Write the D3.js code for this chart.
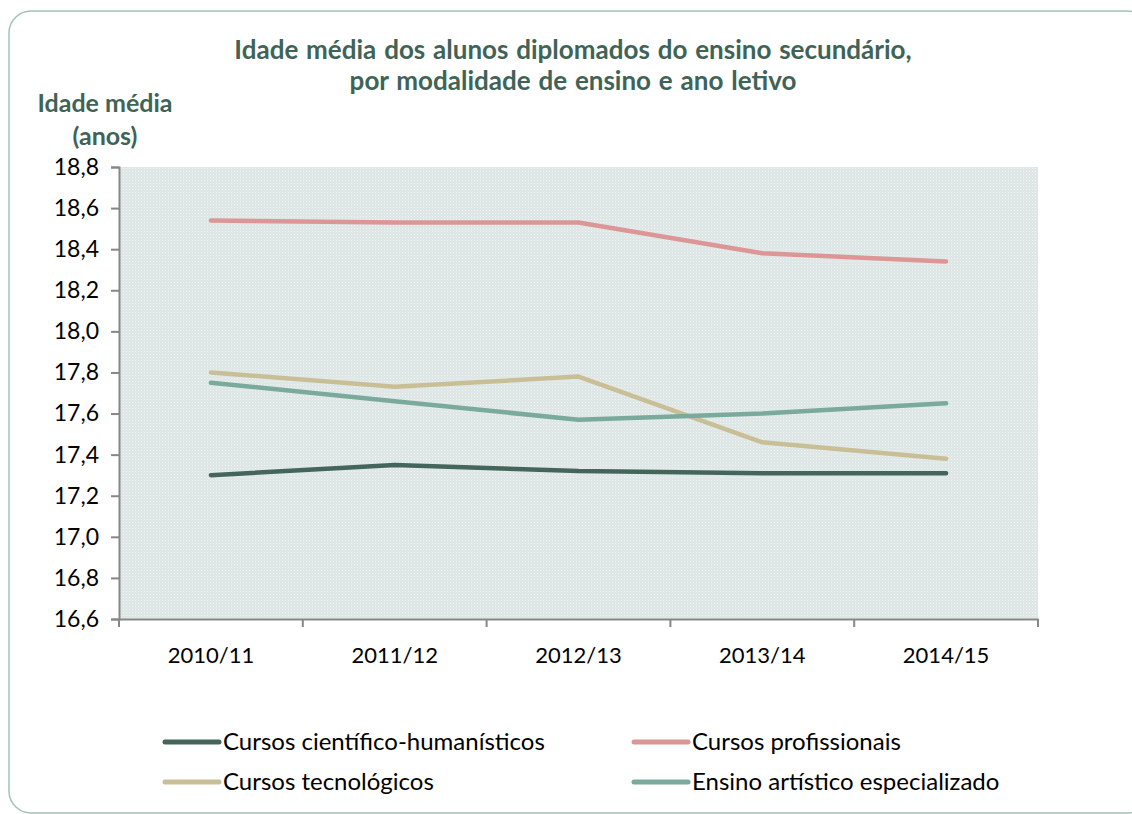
<!DOCTYPE html>
<html>
<head>
<meta charset="utf-8">
<script src="https://cdn.jsdelivr.net/npm/d3@7"></script>
<style>
  body { margin: 0; background: #fff; }
  svg text { font-family: Lato, "Open Sans", sans-serif; }
</style>
</head>
<body>
<script>
const years = ['2010/11', '2011/12', '2012/13', '2013/14', '2014/15'];
const cientifico = [17.30, 17.35, 17.32, 17.31, 17.31];
const profissionais = [18.54, 18.53, 18.53, 18.38, 18.34];
const tecnologicos = [17.80, 17.73, 17.78, 17.46, 17.38];
const artistico = [17.75, 17.66, 17.57, 17.60, 17.65];
const yTicks = [16.6, 16.8, 17.0, 17.2, 17.4, 17.6, 17.8, 18.0, 18.2, 18.4, 18.6, 18.8];

const series = [
  {name: 'Cursos científico-humanísticos', values: cientifico, color: '#44665a'},
  {name: 'Cursos profissionais', values: profissionais, color: '#dc9696'},
  {name: 'Cursos tecnológicos', values: tecnologicos, color: '#c9bf97'},
  {name: 'Ensino artístico especializado', values: artistico, color: '#7aaa9c'}
];

const width = 1132;
const height = 814;
const plot = {left: 119, right: 1038, top: 167, bottom: 619};
const fmt = d => d3.format('.1f')(d).replace('.', ',');

const svg = d3.select('body')
  .append('svg')
  .attr('width', width)
  .attr('height', height);

// frame
svg.append('rect')
  .attr('x', 9).attr('y', 11)
  .attr('width', 1140).attr('height', 802)
  .attr('rx', 22)
  .style('fill', 'none')
  .style('stroke', '#9fc4b6')
  .style('stroke-width', 1.5);

// dotted plot background
const pat = svg.append('defs').append('pattern')
  .attr('id', 'dots')
  .attr('width', 3).attr('height', 3)
  .attr('patternUnits', 'userSpaceOnUse');
pat.append('rect').attr('width', 3).attr('height', 3).style('fill', '#dde6e4');
pat.append('rect').attr('width', 1).attr('height', 1).style('fill', '#f1f5f4');
pat.append('rect').attr('x', 1.5).attr('y', 1.5).attr('width', 1).attr('height', 1).style('fill', '#ecf1f0');

const x = d3.scaleBand()
  .domain(years)
  .range([plot.left, plot.right]);

const y = d3.scaleLinear()
  .domain([16.6, 18.8])
  .range([plot.bottom, plot.top]);

svg.append('rect')
  .attr('x', plot.left).attr('y', plot.top)
  .attr('width', plot.right - plot.left)
  .attr('height', plot.bottom - plot.top)
  .style('fill', 'url(#dots)');

// y axis
const yAxis = svg.append('g')
  .attr('transform', `translate(${plot.left},0)`)
  .call(d3.axisLeft(y).tickValues(yTicks).tickFormat(fmt).tickSize(8).tickSizeOuter(8).tickPadding(12));
yAxis.select('.domain').style('stroke', '#878787').style('stroke-width', 2);
yAxis.selectAll('.tick line').style('stroke', '#878787').style('stroke-width', 2);
yAxis.selectAll('text').style('font-size', '23px').style('fill', '#000');

// x axis
const xAxis = svg.append('g')
  .attr('transform', `translate(0,${plot.bottom})`)
  .call(d3.axisBottom(x).tickSize(0).tickPadding(28));
xAxis.select('.domain').style('stroke', '#878787').style('stroke-width', 2);
xAxis.selectAll('text').style('font-size', '22px').style('fill', '#000');
xAxis.selectAll('.sep')
  .data(years.map(d => x(d)).concat([plot.right]))
  .enter().append('line')
  .attr('class', 'sep')
  .attr('x1', d => d).attr('x2', d => d)
  .attr('y1', 0).attr('y2', 8)
  .style('stroke', '#878787')
  .style('stroke-width', 2);

// lines
const line = d3.line()
  .x((d, i) => x(years[i]) + x.bandwidth() / 2)
  .y(d => y(d));

svg.append('g')
  .selectAll('path')
  .data(series)
  .enter().append('path')
    .attr('d', d => line(d.values))
    .style('fill', 'none')
    .style('stroke', d => d.color)
    .style('stroke-width', 4.5)
    .style('stroke-linecap', 'round')
    .style('stroke-linejoin', 'round');

// titles
const titleColor = '#3f6357';
svg.append('text')
  .attr('x', 573).attr('y', 59)
  .attr('text-anchor', 'middle')
  .style('font-size', '26px').style('font-weight', 'bold').style('fill', titleColor)
  .style('word-spacing', '1.5px')
  .text('Idade média dos alunos diplomados do ensino secundário,');
svg.append('text')
  .attr('x', 573).attr('y', 90)
  .attr('text-anchor', 'middle')
  .style('font-size', '26px').style('font-weight', 'bold').style('fill', titleColor)
  .style('word-spacing', '1.5px')
  .text('por modalidade de ensino e ano letivo');

svg.append('text')
  .attr('x', 105).attr('y', 112)
  .attr('text-anchor', 'middle')
  .style('font-size', '25px').style('font-weight', 'bold').style('fill', titleColor)
  .text('Idade média');
svg.append('text')
  .attr('x', 105).attr('y', 145)
  .attr('text-anchor', 'middle')
  .style('font-size', '25px').style('font-weight', 'bold').style('fill', titleColor)
  .text('(anos)');

// legend
const legendPos = [[165, 742], [634, 742], [165, 782], [634, 782]];
const legend = svg.append('g')
  .selectAll('g')
  .data(series)
  .enter().append('g')
    .attr('transform', (d, i) => `translate(${legendPos[i][0]},${legendPos[i][1]})`);
legend.append('line')
  .attr('x1', 0).attr('x2', 54)
  .style('stroke', d => d.color)
  .style('stroke-width', 5)
  .style('stroke-linecap', 'round');
legend.append('text')
  .attr('x', 58).attr('y', 8)
  .style('font-size', '24px')
  .style('fill', '#000')
  .text(d => d.name);
</script>
</body>
</html>
